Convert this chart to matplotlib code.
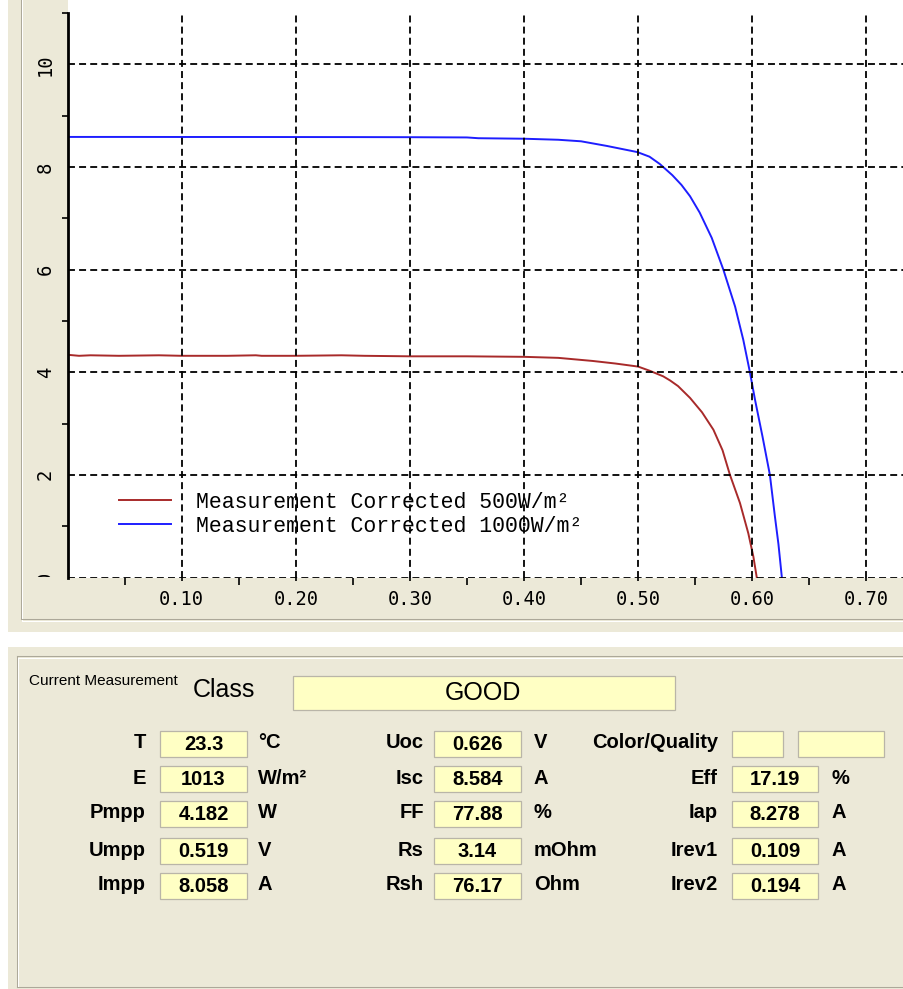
import matplotlib
matplotlib.use("Agg")
import matplotlib.pyplot as plt
from matplotlib.patches import Rectangle
from matplotlib.lines import Line2D
from matplotlib.transforms import Bbox, TransformedBbox
from matplotlib.ticker import FixedLocator

plt.rcParams["lines.scale_dashes"] = False

W, H = 904, 989
BEIGE = "#ECE9D8"
ETCH = "#ACA899"
FIELD = "#FFFFC4"
RED = "#A82A2A"
BLUE = "#1E1EFF"

# I-V curves (voltage in V, current in A)
v_500 = [0.000, 0.010, 0.020, 0.045, 0.080, 0.100, 0.140, 0.165, 0.170, 0.200,
         0.240, 0.260, 0.300, 0.350, 0.400, 0.430, 0.460, 0.480, 0.500, 0.510,
         0.522, 0.528, 0.535, 0.5455, 0.556, 0.566, 0.574, 0.5805, 0.5893, 0.5966,
         0.601, 0.604]
i_500 = [4.34, 4.32, 4.33, 4.32, 4.33, 4.32, 4.32, 4.33, 4.32, 4.32,
         4.33, 4.32, 4.31, 4.31, 4.30, 4.28, 4.22, 4.17, 4.11, 4.03,
         3.92, 3.84, 3.73, 3.50, 3.22, 2.88, 2.48, 2.00, 1.45, 0.86,
         0.41, 0.00]

v_1000 = [0.000, 0.050, 0.100, 0.150, 0.200, 0.250, 0.300, 0.350, 0.360, 0.400,
          0.430, 0.450, 0.4725, 0.4993, 0.510, 0.519, 0.530, 0.538, 0.5455, 0.554,
          0.5645, 0.5747, 0.585, 0.5922, 0.598, 0.6025, 0.609, 0.6155, 0.6199,
          0.623, 0.626]
i_1000 = [8.585, 8.585, 8.584, 8.584, 8.583, 8.582, 8.580, 8.575, 8.560, 8.550,
          8.530, 8.500, 8.410, 8.290, 8.200, 8.058, 7.840, 7.650, 7.430, 7.110,
          6.620, 6.000, 5.280, 4.630, 4.000, 3.460, 2.750, 2.000, 1.190,
          0.650, 0.000]

series_labels = ["Measurement Corrected 500W/m²", "Measurement Corrected 1000W/m²"]

x_major = [0.10, 0.20, 0.30, 0.40, 0.50, 0.60, 0.70]
x_minor = [0.05, 0.15, 0.25, 0.35, 0.45, 0.55, 0.65]
y_major = [0, 2, 4, 6, 8, 10]
y_minor = [1, 3, 5, 7, 9, 11]

# Measurement summary
class_result = "GOOD"
col1_labels = ["T", "E", "Pmpp", "Umpp", "Impp"]
col1_values = ["23.3", "1013", "4.182", "0.519", "8.058"]
col1_units = ["°C", "W/m²", "W", "V", "A"]
col2_labels = ["Uoc", "Isc", "FF", "Rs", "Rsh"]
col2_values = ["0.626", "8.584", "77.88", "3.14", "76.17"]
col2_units = ["V", "A", "%", "mOhm", "Ohm"]
col3_labels = ["Color/Quality", "Eff", "Iap", "Irev1", "Irev2"]
col3_values = ["", "17.19", "8.278", "0.109", "0.194"]
col3_units = ["", "%", "A", "A", "A"]

fig = plt.figure(figsize=(W / 100, H / 100), dpi=100, facecolor="white")


def fx(x):
    return x / W


def fy(y):
    return 1 - y / H


def rect(x0, y0, x1, y1, zorder=0, **kw):
    fig.add_artist(Rectangle((fx(x0), fy(y1)), (x1 - x0) / W, (y1 - y0) / H,
                             transform=fig.transFigure, zorder=zorder, **kw))


def hline(x0, x1, y, color, lw=0.75):
    fig.add_artist(Line2D([fx(x0), fx(x1)], [fy(y), fy(y)], zorder=1,
                          transform=fig.transFigure, color=color, lw=lw))


def vline(x, y0, y1, color, lw=0.75):
    fig.add_artist(Line2D([fx(x), fx(x)], [fy(y0), fy(y1)], zorder=1,
                          transform=fig.transFigure, color=color, lw=lw))


# window panels
rect(8, 0, W, 632, facecolor=BEIGE, edgecolor="none", zorder=0)
rect(8, 647, W, H, facecolor=BEIGE, edgecolor="none", zorder=0)
rect(67.6, 0, W, 577.5, facecolor="white", edgecolor="none", zorder=0.5)
vline(21, 0, 619, ETCH)
vline(22.5, 0, 620.5, "white")
hline(21, W, 619, ETCH)
hline(22.5, W, 620.5, "white")
vline(17, 656, 987, ETCH)
vline(18.5, 657.5, 987, "white")
hline(17, W, 656, ETCH)
hline(18.5, W, 657.5, "white")
hline(17, W, 987, ETCH)

# chart
ax = fig.add_axes([fx(67.6), fy(577.5), (W - 67.6) / W, (577.5 - 13) / H])
ax.set_zorder(3)
ax.set_facecolor("white")
ax.plot(v_500, i_500, color=RED, lw=1.4, zorder=2, label=series_labels[0])
ax.plot(v_1000, i_1000, color=BLUE, lw=1.4, zorder=2, label=series_labels[1])
ax.set_xlim(0, (W - 67.6) / 1141.0)
ax.set_ylim(0, 11)

for side in ("top", "right", "bottom"):
    ax.spines[side].set_visible(False)
ax.spines["left"].set_linewidth(2.0)
ax.spines["left"].set_color("black")

ax.xaxis.set_major_locator(FixedLocator(x_major))
ax.xaxis.set_minor_locator(FixedLocator(x_minor))
ax.yaxis.set_major_locator(FixedLocator(y_major))
ax.yaxis.set_minor_locator(FixedLocator(y_minor))
ax.set_xticklabels([f"{v:.2f}" for v in x_major])
ax.set_yticklabels(["" if v == 0 else str(v) for v in y_major])

for lab in ax.get_xticklabels():
    lab.set_fontfamily("DejaVu Sans Mono")
    lab.set_fontsize(13.5)
for lab in ax.get_yticklabels():
    lab.set_fontfamily("DejaVu Sans Mono")
    lab.set_fontsize(13.5)
    lab.set_rotation(90)
    lab.set_va("center")

ax.tick_params(axis="x", which="major", length=2, width=1.2, pad=7, colors="black")
ax.tick_params(axis="x", which="minor", length=5, width=1.2, colors="black")
ax.tick_params(axis="y", which="major", length=0, pad=9, colors="black")
ax.tick_params(axis="y", which="minor", length=4, width=1.2, colors="black")

ax.set_axisbelow(False)
ax.grid(True, which="major", color="black", lw=1.3, linestyle=(0, (5, 3)))

# partially hidden zero label on the y axis
zero = fig.text(fx(45.5), fy(577.5), "0", rotation=90, ha="center", va="center",
                fontfamily="DejaVu Sans Mono", fontsize=13.5, zorder=4)
zero.set_clip_box(TransformedBbox(Bbox.from_extents(0, fy(577.0), 1, 1), fig.transFigure))
zero.set_clip_on(True)

leg = ax.legend(loc="upper left", bbox_to_anchor=((119 - 67.6) / (W - 67.6), 0.152),
                frameon=False, borderpad=0, borderaxespad=0, handlelength=2.4,
                handletextpad=1.2, labelspacing=0.15,
                prop={"family": "Liberation Mono", "size": 15.5})
leg.set_zorder(1)

# measurement summary panel
sans = "Liberation Sans"
fig.text(fx(29), fy(681), "Current Measurement", fontfamily=sans, fontsize=11,
         ha="left", va="center", zorder=4)
fig.text(fx(193), fy(690), "Class", fontfamily=sans, fontsize=18,
         ha="left", va="center", zorder=4)


def field(x0, x1, y0, y1):
    rect(x0, y0, x1, y1, facecolor=FIELD, edgecolor="#B9B5A8", lw=0.9, zorder=1)


field(293, 675, 676, 710)
fig.text(fx(483), fy(693), class_result, fontfamily=sans, fontsize=18,
         ha="center", va="center", zorder=4)

row_tops = [731, 766, 801, 838, 873]
box_h = 26
columns = [
    (col1_labels, col1_values, col1_units, 146, 160, 247, 258),
    (col2_labels, col2_values, col2_units, 424, 434, 521, 534),
    (col3_labels, col3_values, col3_units, 718, 732, 818, 832),
]
for labels, values, units, lab_x, bx0, bx1, unit_x in columns:
    for r, top in enumerate(row_tops):
        yc = top + box_h / 2
        fig.text(fx(lab_x), fy(yc - 1), labels[r], fontfamily=sans, fontsize=14.5,
                 fontweight="bold", ha="right", va="center", zorder=4)
        if labels[r] == "Color/Quality":
            field(732, 783, top, top + box_h)
            field(798, 884, top, top + box_h)
            continue
        field(bx0, bx1, top, top + box_h)
        fig.text(fx((bx0 + bx1) / 2), fy(yc + 0.5), values[r], fontfamily=sans,
                 fontsize=14.5, fontweight="bold", ha="center", va="center", zorder=4)
        fig.text(fx(unit_x), fy(yc - 1), units[r], fontfamily=sans, fontsize=14.5,
                 fontweight="bold", ha="left", va="center", zorder=4)

fig.savefig("out.png", dpi=100, facecolor="white")
